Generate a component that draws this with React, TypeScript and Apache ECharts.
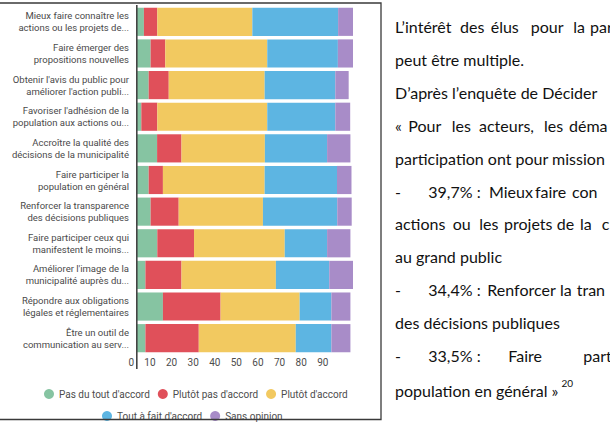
import React, { useEffect, useRef } from "react";
import * as echarts from "echarts";

// Objectives of citizen participation, top to bottom
const categories = [
  "Mieux faire connaître les\nactions ou les projets de...",
  "Faire émerger des\npropositions nouvelles",
  "Obtenir l'avis du public pour\naméliorer l'action publi...",
  "Favoriser l'adhésion de la\npopulation aux actions ou...",
  "Accroître la qualité des\ndécisions de la municipalité",
  "Faire participer la\npopulation en général",
  "Renforcer la transparence\ndes décisions publiques",
  "Faire participer ceux qui\nmanifestent le moins...",
  "Améliorer l'image de la\nmunicipalité auprès du...",
  "Répondre aux obligations\nlégales et réglementaires",
  "Être un outil de\ncommunication au serv...",
];

const seriesNames = [
  "Pas du tout d'accord",
  "Plutôt pas d'accord",
  "Plutôt d'accord",
  "Tout à fait d'accord",
  "Sans opinion",
];

// Share of respondents (%) per answer
const pasDuTout = [3.2, 6.3, 5.4, 2.0, 9.3, 5.4, 6.3, 9.4, 3.9, 12.0, 3.9];
const plutotPas = [6.2, 6.8, 9.3, 7.4, 11.3, 6.6, 13.0, 17.0, 16.7, 26.7, 24.7];
const plutot = [44.0, 47.2, 44.4, 50.9, 38.6, 47.1, 39.0, 42.0, 43.7, 36.6, 44.9];
const toutAFait = [39.7, 32.7, 32.7, 31.5, 28.8, 33.5, 34.4, 19.6, 24.7, 14.7, 16.5];
const sansOpinion = [6.9, 7.9, 6.2, 6.9, 10.8, 6.7, 6.7, 10.8, 12.0, 8.8, 8.8];

const xTicks = [0, 10, 20, 30, 40, 50, 60, 70, 80, 90];

const colors = ["#86c4a2", "#e0505a", "#f2c960", "#5db5e2", "#a88cc8"];

// Accompanying paragraph (justified), one entry per word: [text, x]
const bodyLines: [string, number][][] = [
  [["L’intérêt", 395], ["des", 460], ["élus", 490.7], ["pour", 530.7], ["la", 573.3], ["par", 590]],
  [["peut être multiple.", 395]],
  [["D’après l’enquête de Décider", 395]],
  [["«", 395], ["Pour", 408.3], ["les", 451.7], ["acteurs,", 479], ["les", 544], ["déma", 569]],
  [["participation ont pour mission", 395]],
  [["-", 395], ["39,7% :", 428.3], ["Mieux", 489], ["faire", 535], ["con", 572]],
  [["actions", 395], ["ou", 452.7], ["les", 479.3], ["projets", 504], ["de", 556.7], ["la", 580], ["c", 601.7]],
  [["au grand public", 395]],
  [["-", 395], ["34,4% :", 428.3], ["Renforcer", 487.3], ["la", 560], ["tran", 576.7]],
  [["des décisions publiques", 395]],
  [["-", 395], ["33,5% :", 428.3], ["Faire", 508.3], ["partic", 583.3]],
];
const lastLine = "population en général »";
const footnote = "20";
const bodyTop = 26.5;
const bodyPitch = 32.9;

export default function App() {
  const ref = useRef<HTMLDivElement>(null);

  useEffect(() => {
    if (!ref.current) return;
    const chart = echarts.init(ref.current, undefined, { renderer: "svg" });
    const values = [pasDuTout, plutotPas, plutot, toutAFait, sansOpinion];

    const bodyFont = "Lato, 'Open Sans', sans-serif";
    const bodySize = 16;
    const ink = "#111";
    const textEls: any[] = [];
    bodyLines.forEach((line, i) => {
      line.forEach(([t, x]) => {
        textEls.push({
          type: "text",
          x,
          y: bodyTop + i * bodyPitch,
          style: {
            text: t,
            fill: ink,
            font: `${bodySize}px ${bodyFont}`,
            textAlign: "left",
            textVerticalAlign: "middle",
          },
        });
      });
    });
    // closing line with its footnote call
    textEls.push({
      type: "text",
      x: 395,
      y: bodyTop + bodyLines.length * bodyPitch,
      style: {
        text: `{a|${lastLine}}{s|${footnote}}`,
        textVerticalAlign: "middle",
        rich: {
          a: { fill: ink, fontSize: bodySize, fontFamily: bodyFont, lineHeight: 20, verticalAlign: "bottom" },
          s: { fill: ink, fontSize: 10, fontFamily: bodyFont, lineHeight: 20, verticalAlign: "top", padding: [0, 0, 0, 3] },
        },
      },
    });

    const frame = "#3a3a3a";
    const legendText = { color: "#4d4d4d", fontSize: 10, fontFamily: "Roboto, sans-serif" };

    chart.setOption({
      animation: false,
      color: colors,
      grid: { left: 137, width: 216, top: 6, height: 348, containLabel: false },
      xAxis: {
        type: "value",
        min: 0,
        max: 100,
        interval: 10,
        axisLine: { show: false },
        axisTick: { show: false },
        splitLine: { show: false },
        axisLabel: {
          color: "#4d4d4d",
          fontSize: 10,
          fontFamily: "Roboto, sans-serif",
          align: "right",
          padding: [0, 3, 0, 0],
          margin: 3,
          formatter: (v: number) => (xTicks.includes(v) ? String(v) : ""),
        },
      },
      yAxis: {
        type: "category",
        data: categories,
        inverse: true,
        axisLine: { show: false },
        axisTick: { show: false },
        axisLabel: {
          color: "#4a4a4a",
          fontSize: 9.5,
          lineHeight: 12,
          fontFamily: "Roboto, sans-serif",
          margin: 8,
          align: "right",
        },
      },
      legend: [
        {
          data: seriesNames.slice(0, 3),
          left: 39,
          top: 384,
          icon: "circle",
          itemWidth: 10,
          itemHeight: 10,
          itemGap: 8,
          textStyle: legendText,
        },
        {
          data: seriesNames.slice(3),
          left: 97,
          top: 406,
          icon: "circle",
          itemWidth: 10,
          itemHeight: 10,
          itemGap: 8,
          textStyle: legendText,
        },
      ],
      series: seriesNames.map((name, i) => ({
        name,
        type: "bar",
        stack: "total",
        barCategoryGap: "11%",
        data: values[i],
        itemStyle: { color: colors[i] },
      })),
      graphic: [
        // value axis baseline, running past the tick labels
        {
          type: "line",
          shape: { x1: 136.8, y1: 5, x2: 136.8, y2: 369 },
          style: { stroke: "#444", lineWidth: 1.6 },
          z: 10,
        },
        // page frame around the figure
        {
          type: "polyline",
          shape: { points: [[-2, 3], [381, 3], [381, 419.5], [-2, 419.5]] },
          style: { stroke: frame, lineWidth: 1.3, fill: null },
          z: 20,
        },
        ...textEls,
      ],
    });

    return () => chart.dispose();
  }, []);

  return (
    <div
      ref={ref}
      style={{ position: "fixed", left: 0, top: 0, width: 610, height: 425, background: "#fff" }}
    />
  );
}
